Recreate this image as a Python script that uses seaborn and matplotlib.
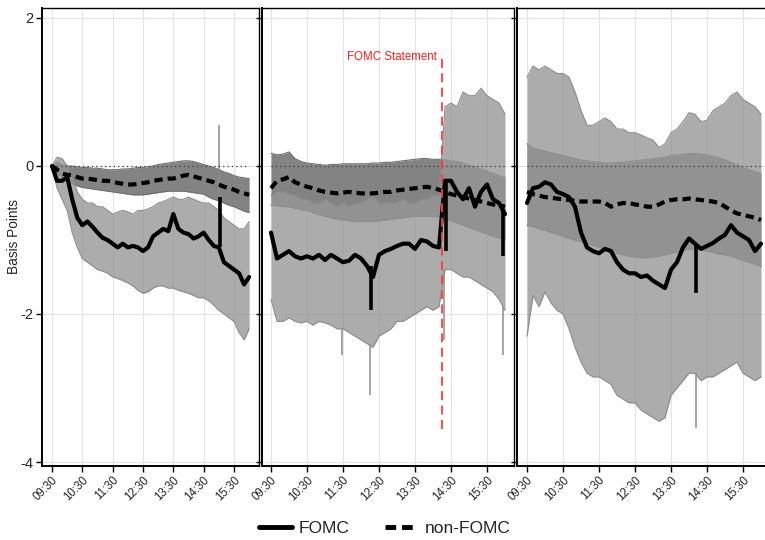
import numpy as np
import pandas as pd
import matplotlib
matplotlib.use("Agg")
import matplotlib.pyplot as plt
import seaborn as sns
from matplotlib.lines import Line2D

# ---------------- data (basis points, 10-minute grid 09:30 .. 16:00) ----------------
minutes = np.arange(570, 961, 10)
tick_labels = ["09:30", "10:30", "11:30", "12:30", "13:30", "14:30", "15:30"]
y_ticks = [-4, -2, 0, 2]
y_tick_labels = ["-4", "-2", "0", "2"]
series_names = ["FOMC", "non-FOMC"]

# panel 1
p1_fomc = [0.0, -0.2, -0.2, -0.15, -0.45, -0.7, -0.8, -0.75, -0.82, -0.9,
           -0.97, -1.0, -1.05, -1.1, -1.05, -1.1, -1.08, -1.1, -1.15, -1.1,
           -0.95, -0.9, -0.85, -0.88, -0.65, -0.85, -0.9, -0.92, -0.98, -0.95,
           -0.9, -1.0, -1.08, -1.1, -1.3, -1.35, -1.4, -1.45, -1.6, -1.5]
p1_non = [0.0, -0.05, -0.1, -0.12, -0.12, -0.15, -0.17, -0.17, -0.18, -0.19,
          -0.2, -0.2, -0.21, -0.23, -0.24, -0.25, -0.25, -0.24, -0.23, -0.22,
          -0.2, -0.19, -0.18, -0.17, -0.17, -0.15, -0.13, -0.12, -0.14, -0.16,
          -0.18, -0.2, -0.22, -0.25, -0.28, -0.3, -0.32, -0.35, -0.37, -0.39]
p1_fomc_hi = [0.0, 0.12, 0.1, 0.0, -0.15, -0.35, -0.45, -0.5, -0.5, -0.55,
              -0.55, -0.6, -0.65, -0.62, -0.6, -0.62, -0.65, -0.6, -0.6, -0.58,
              -0.55, -0.5, -0.48, -0.45, -0.42, -0.45, -0.45, -0.42, -0.45, -0.48,
              -0.5, -0.5, -0.55, -0.6, -0.7, -0.75, -0.8, -0.85, -0.85, -0.75]
p1_fomc_lo = [0.0, -0.3, -0.45, -0.6, -0.9, -1.1, -1.25, -1.3, -1.35, -1.4,
              -1.42, -1.45, -1.5, -1.52, -1.55, -1.58, -1.62, -1.68, -1.72, -1.7,
              -1.65, -1.62, -1.62, -1.65, -1.65, -1.68, -1.7, -1.72, -1.75, -1.78,
              -1.78, -1.82, -1.88, -1.95, -2.0, -2.05, -2.1, -2.25, -2.35, -2.2]
p1_non_hi = [0.0, 0.05, 0.02, 0.0, 0.0, -0.01, -0.02, -0.02, -0.03, -0.03,
             -0.04, -0.05, -0.05, -0.05, -0.04, -0.04, -0.03, -0.02, -0.02, -0.01,
             0.0, 0.02, 0.03, 0.04, 0.05, 0.06, 0.07, 0.07, 0.06, 0.04,
             0.02, 0.0, -0.02, -0.05, -0.08, -0.1, -0.13, -0.15, -0.16, -0.17]
p1_non_lo = [0.0, -0.1, -0.15, -0.2, -0.24, -0.27, -0.29, -0.3, -0.31, -0.32,
             -0.33, -0.34, -0.35, -0.36, -0.37, -0.38, -0.39, -0.39, -0.39, -0.38,
             -0.37, -0.36, -0.35, -0.34, -0.34, -0.34, -0.34, -0.35, -0.36, -0.37,
             -0.38, -0.42, -0.45, -0.47, -0.5, -0.53, -0.55, -0.58, -0.61, -0.63]
p1_mean_spike_t = ["15:02"]
p1_mean_spike_from = [-1.1]
p1_mean_spike_to = [-0.42]
p1_band_spike_t = ["15:01"]
p1_band_spike_from = [-0.6]
p1_band_spike_to = [0.55]

# panel 2
p2_fomc = [-0.9, -1.25, -1.2, -1.15, -1.22, -1.25, -1.22, -1.25, -1.2, -1.27,
           -1.2, -1.25, -1.3, -1.28, -1.2, -1.25, -1.35, -1.5, -1.2, -1.15,
           -1.12, -1.08, -1.05, -1.05, -1.12, -1.0, -1.02, -1.08, -1.1, -0.2,
           -0.2, -0.35, -0.45, -0.3, -0.55, -0.35, -0.25, -0.45, -0.5, -0.65]
p2_non = [-0.3, -0.2, -0.18, -0.15, -0.22, -0.25, -0.28, -0.3, -0.33, -0.35,
          -0.36, -0.37, -0.36, -0.35, -0.36, -0.37, -0.37, -0.37, -0.36, -0.35,
          -0.35, -0.33, -0.32, -0.31, -0.3, -0.29, -0.28, -0.3, -0.32, -0.35,
          -0.38, -0.4, -0.42, -0.44, -0.46, -0.48, -0.5, -0.52, -0.53, -0.55]
p2_fomc_hi = [-0.4, -0.35, -0.35, -0.38, -0.4, -0.45, -0.45, -0.5, -0.5, -0.45,
              -0.5, -0.55, -0.5, -0.55, -0.5, -0.5, -0.45, -0.4, -0.5, -0.5,
              -0.5, -0.5, -0.45, -0.5, -0.5, -0.45, -0.45, -0.4, -0.4, 0.8,
              0.85, 0.8, 1.0, 0.95, 0.95, 1.05, 0.95, 0.9, 0.85, 0.7]
p2_fomc_lo = [-1.8, -2.1, -2.1, -2.05, -2.1, -2.12, -2.1, -2.15, -2.1, -2.12,
              -2.15, -2.2, -2.2, -2.25, -2.3, -2.35, -2.4, -2.45, -2.3, -2.25,
              -2.2, -2.1, -2.1, -2.05, -2.0, -1.95, -1.9, -1.95, -1.9, -1.4,
              -1.4, -1.45, -1.5, -1.5, -1.55, -1.6, -1.65, -1.7, -1.8, -1.95]
p2_non_hi = [0.17, 0.15, 0.16, 0.19, 0.1, 0.06, 0.04, 0.03, 0.02, 0.01,
             0.02, 0.02, 0.03, 0.03, 0.03, 0.03, 0.03, 0.04, 0.04, 0.05,
             0.05, 0.06, 0.07, 0.08, 0.09, 0.1, 0.1, 0.09, 0.09, 0.08,
             0.07, 0.06, 0.04, 0.01, -0.01, -0.04, -0.07, -0.1, -0.13, -0.16]
p2_non_lo = [-0.53, -0.54, -0.55, -0.55, -0.57, -0.59, -0.6, -0.63, -0.66, -0.68,
             -0.7, -0.72, -0.73, -0.74, -0.75, -0.75, -0.75, -0.75, -0.74, -0.73,
             -0.72, -0.71, -0.7, -0.69, -0.68, -0.68, -0.68, -0.68, -0.69, -0.72,
             -0.74, -0.77, -0.8, -0.83, -0.86, -0.89, -0.92, -0.95, -0.97, -1.0]
p2_mean_spike_t = ["12:16", "14:21", "15:57"]
p2_mean_spike_from = [-1.35, -0.2, -0.6]
p2_mean_spike_to = [-1.95, -1.15, -1.22]
p2_band_spike_t = ["11:28", "12:15", "14:19", "15:56"]
p2_band_spike_from = [-2.2, -2.4, -1.4, -1.9]
p2_band_spike_to = [-2.55, -3.1, -2.35, -2.55]
statement_time = "14:15"
statement_label = "FOMC Statement"

# panel 3
p3_fomc = [-0.5, -0.3, -0.28, -0.22, -0.25, -0.35, -0.38, -0.42, -0.55, -0.9,
           -1.1, -1.15, -1.18, -1.12, -1.15, -1.3, -1.4, -1.45, -1.45, -1.5,
           -1.48, -1.55, -1.6, -1.65, -1.4, -1.3, -1.1, -0.98, -1.05, -1.12,
           -1.08, -1.04, -0.98, -0.93, -0.8, -0.9, -0.95, -1.0, -1.15, -1.05]
p3_non = [-0.35, -0.38, -0.4, -0.42, -0.43, -0.44, -0.45, -0.46, -0.47, -0.48,
          -0.48, -0.48, -0.48, -0.5, -0.55, -0.52, -0.5, -0.5, -0.52, -0.53,
          -0.55, -0.55, -0.52, -0.48, -0.46, -0.45, -0.45, -0.44, -0.45, -0.46,
          -0.47, -0.48, -0.5, -0.55, -0.6, -0.64, -0.66, -0.68, -0.7, -0.73]
p3_fomc_hi = [1.2, 1.35, 1.3, 1.35, 1.3, 1.25, 1.25, 1.2, 1.0, 0.75,
              0.55, 0.55, 0.6, 0.65, 0.6, 0.5, 0.5, 0.45, 0.45, 0.42,
              0.38, 0.35, 0.25, 0.3, 0.45, 0.5, 0.6, 0.72, 0.7, 0.6,
              0.62, 0.75, 0.8, 0.85, 0.95, 1.0, 0.9, 0.85, 0.8, 0.7]
p3_fomc_lo = [-2.3, -1.75, -1.9, -1.7, -1.85, -1.95, -2.0, -2.2, -2.45, -2.65,
              -2.8, -2.85, -2.85, -2.9, -2.95, -3.1, -3.15, -3.2, -3.2, -3.3,
              -3.35, -3.4, -3.45, -3.4, -3.1, -3.0, -2.9, -2.8, -2.8, -2.9,
              -2.85, -2.85, -2.8, -2.75, -2.7, -2.65, -2.8, -2.85, -2.9, -2.85]
p3_non_hi = [0.3, 0.24, 0.22, 0.2, 0.18, 0.16, 0.14, 0.12, 0.1, 0.08,
             0.07, 0.06, 0.05, 0.04, 0.04, 0.05, 0.05, 0.06, 0.07, 0.08,
             0.09, 0.1, 0.11, 0.12, 0.14, 0.15, 0.16, 0.17, 0.17, 0.16,
             0.15, 0.13, 0.11, 0.08, 0.05, 0.02, -0.02, -0.05, -0.08, -0.1]
p3_non_lo = [-0.8, -0.82, -0.85, -0.87, -0.9, -0.92, -0.95, -0.98, -1.0, -1.02,
             -1.05, -1.07, -1.1, -1.12, -1.15, -1.18, -1.2, -1.22, -1.23, -1.24,
             -1.24, -1.23, -1.22, -1.2, -1.18, -1.16, -1.14, -1.12, -1.12, -1.13,
             -1.15, -1.17, -1.19, -1.2, -1.22, -1.25, -1.28, -1.3, -1.33, -1.36]
p3_mean_spike_t = ["14:12"]
p3_mean_spike_from = [-1.05]
p3_mean_spike_to = [-1.72]
p3_band_spike_t = ["14:12"]
p3_band_spike_from = [-2.8]
p3_band_spike_to = [-3.54]


def to_h(s):
    h, m = s.split(":")
    return int(h) + int(m) / 60.0


# ---------------- styling ----------------
sns.set_theme(style="ticks")
plt.rcParams["font.family"] = ["Liberation Sans", "DejaVu Sans"]

W, H = 765, 540
fig = plt.figure(figsize=(W / 100, H / 100), dpi=100)

AX_TOP, AX_BOT = 8, 466
YLIM = (-4.054, 2.135)

FOMC_FILL = "#979797"
FOMC_EDGE = "#8c8c8c"
NON_FILL = "#838383"
NON_EDGE = "#6f6f6f"

hours = minutes / 60.0


def make_ax(left_px, right_px):
    return fig.add_axes([left_px / W, (H - AX_BOT) / H,
                         (right_px - left_px) / W, (AX_BOT - AX_TOP) / H])


def draw_panel(ax, fomc, non, f_hi, f_lo, n_hi, n_lo,
               ms_t, ms_from, ms_to, bs_t, bs_from, bs_to, xlim, show_ylabels):
    df = pd.DataFrame({"hour": hours, "FOMC": fomc, "non-FOMC": non})
    # bands
    ax.fill_between(hours, n_lo, n_hi, color=NON_FILL, lw=0, zorder=1)
    ax.plot(hours, n_hi, color=NON_EDGE, lw=0.8, zorder=1.1)
    ax.plot(hours, n_lo, color=NON_EDGE, lw=0.8, zorder=1.1)
    ax.fill_between(hours, f_lo, f_hi, color=FOMC_FILL, alpha=0.8, lw=0, zorder=2)
    ax.plot(hours, f_hi, color=FOMC_EDGE, lw=0.8, zorder=2.1)
    ax.plot(hours, f_lo, color=FOMC_EDGE, lw=0.8, zorder=2.1)
    ax.vlines([to_h(t) for t in bs_t], bs_from, bs_to, color=FOMC_EDGE, lw=1.1, zorder=2.2)
    # zero reference
    ax.hlines(0, hours[0], hours[-1], color="#3a3a3a", lw=0.9,
              linestyles=(0, (1, 2.5)), zorder=3)
    # means
    sns.lineplot(data=df, x="hour", y="non-FOMC", ax=ax, color="black", lw=3,
                 linestyle=(0, (2.0, 1.2)), errorbar=None, zorder=4)
    sns.lineplot(data=df, x="hour", y="FOMC", ax=ax, color="black", lw=3,
                 errorbar=None, zorder=5)
    ax.vlines([to_h(t) for t in ms_t], ms_from, ms_to, color="black", lw=2.6, zorder=5)

    ax.set_xlim(*xlim)
    ax.set_ylim(*YLIM)
    ax.set_xlabel("")
    ax.set_ylabel("")
    ax.set_xticks([to_h(t) for t in tick_labels])
    ax.set_xticklabels(tick_labels, rotation=45, ha="right", va="top",
                       rotation_mode="anchor", fontsize=8.3)
    ax.set_yticks(y_ticks)
    if show_ylabels:
        ax.set_yticklabels(y_tick_labels, fontsize=10.5)
    else:
        ax.set_yticklabels([])
    ax.grid(True, color="#e4e4e4", lw=0.8)
    ax.set_axisbelow(True)
    ax.tick_params(axis="both", direction="out", length=4, width=1, color="black", pad=2)
    for s in ax.spines.values():
        s.set_visible(True)
        s.set_color("black")
        s.set_linewidth(1.0)
    ax.spines["left"].set_linewidth(1.4)
    ax.spines["bottom"].set_linewidth(1.4)


ax1 = make_ax(42, 259)
ax2 = make_ax(262, 514)
ax3 = make_ax(517, 770)

draw_panel(ax1, p1_fomc, p1_non, p1_fomc_hi, p1_fomc_lo, p1_non_hi, p1_non_lo,
           p1_mean_spike_t, p1_mean_spike_from, p1_mean_spike_to,
           p1_band_spike_t, p1_band_spike_from, p1_band_spike_to,
           (9.5 - 10 / 30.33, 15.5 + 25 / 30.33), True)
draw_panel(ax2, p2_fomc, p2_non, p2_fomc_hi, p2_fomc_lo, p2_non_hi, p2_non_lo,
           p2_mean_spike_t, p2_mean_spike_from, p2_mean_spike_to,
           p2_band_spike_t, p2_band_spike_from, p2_band_spike_to,
           (9.5 - 9 / 36, 15.5 + 27 / 36), False)
draw_panel(ax3, p3_fomc, p3_non, p3_fomc_hi, p3_fomc_lo, p3_non_hi, p3_non_lo,
           p3_mean_spike_t, p3_mean_spike_from, p3_mean_spike_to,
           p3_band_spike_t, p3_band_spike_from, p3_band_spike_to,
           (9.5 - 10 / 36, 15.5 + 27 / 36), False)

# FOMC statement marker
st = to_h(statement_time)
ax2.vlines(st, -3.55, 1.47, color="#ff3b3b", lw=1.3, linestyles=(0, (5, 3)), zorder=6)
ax2.text(st - 0.14, 1.47, statement_label, color="#ff2020", fontsize=8.3,
         ha="right", va="center", zorder=7)

fig.text(14 / W, 1 - ((AX_TOP + AX_BOT) / 2) / H, "Basis Points", rotation=90,
         ha="center", va="center", fontsize=9.8)

handles = [Line2D([], [], color="black", lw=3.5),
           Line2D([], [], color="black", lw=3.5, linestyle=(0, (2.2, 1.2)))]
fig.legend(handles, series_names, loc="center", bbox_to_anchor=(0.503, 1 - 528 / H),
           ncol=2, frameon=False, fontsize=12.5, handlelength=1.9,
           handletextpad=0.4, columnspacing=2.0)

fig.savefig("out.png", dpi=100)
